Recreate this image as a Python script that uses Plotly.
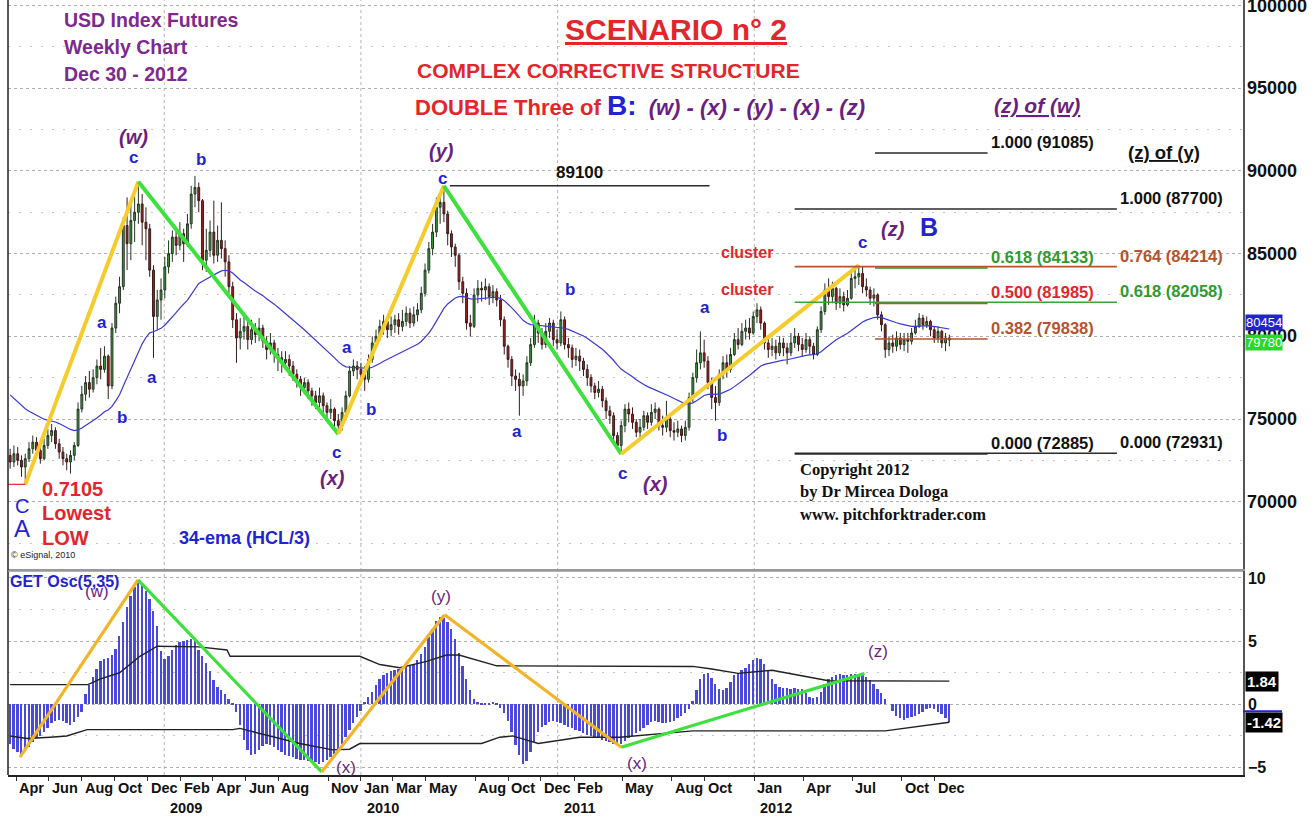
import datetime as dt
import plotly.graph_objects as go
from plotly.subplots import make_subplots

# ---------------- data ----------------
first_week = dt.datetime(2008, 3, 21)
first_open = 72.8
ema_seed = 76.7
ema_period = 34

close_pts = [
    72.4, 72.9, 72.5, 72.1, 72.6, 73.2, 73.6, 73.1, 72.6, 73.4,
    74.0, 74.3, 73.5, 73.0, 72.6, 72.4, 72.8, 73.4, 75.6, 76.5,
    77.2, 76.8, 77.5, 78.2, 78.0, 78.8, 77.0, 80.5, 82.0, 83.0,
    86.7, 85.6, 87.0, 87.5, 88.0, 86.9, 86.5, 84.0, 81.2, 82.2,
    82.8, 84.2, 85.0, 86.0, 85.5, 86.2, 85.6, 86.8, 88.6, 89.0,
    88.2, 84.6, 85.2, 86.3, 84.9, 85.8, 85.3, 84.5, 83.0, 81.0,
    79.9, 80.3, 80.6, 79.8, 80.4, 80.1, 80.5, 79.7, 79.2, 79.6,
    78.9, 78.7, 78.4, 78.6, 78.2, 77.7, 77.4, 76.9, 77.2, 76.7,
    76.4, 76.0, 76.4, 75.8, 75.4, 75.6, 74.9, 74.6, 75.4, 76.4,
    77.9, 78.2, 78.0, 77.7, 77.4, 78.6, 79.6, 80.0, 80.6, 80.9,
    80.4, 80.7, 81.0, 80.6, 80.9, 81.4, 80.8, 81.3, 81.6, 82.6,
    84.0, 85.3, 86.3, 87.8, 88.1, 87.4, 86.2, 85.4, 84.9, 83.3,
    82.6, 80.8, 80.6, 82.5, 82.9, 82.8, 83.0, 82.4, 82.7, 82.2,
    81.0, 79.4, 78.6, 77.6, 77.4, 77.0, 77.3, 78.4, 79.5, 80.8,
    80.2, 79.5, 80.3, 80.8, 79.8, 79.6, 81.0, 79.5, 79.3, 78.6,
    78.8, 78.5, 78.0, 77.5, 77.0, 76.6, 76.8, 76.1, 75.5, 75.2,
    74.0, 73.4, 74.6, 75.6, 75.3, 74.8, 74.2, 74.5, 75.2, 74.8,
    75.4, 75.6, 74.6, 74.5, 75.0, 74.3, 74.2, 74.4, 74.0, 74.5,
    76.3, 77.5, 78.4, 79.0, 78.5, 77.2, 76.3, 76.0, 77.7, 78.4,
    78.0, 78.9, 79.8, 79.5, 80.3, 80.5, 80.2, 81.2, 81.6, 80.8,
    79.6, 79.2, 79.4, 79.0, 79.6, 79.3, 79.0, 79.6, 80.0, 79.5,
    79.2, 79.8, 79.4, 78.9, 80.4, 81.5, 82.8, 82.4, 82.9, 82.0,
    82.4, 81.9, 82.3, 83.5, 83.6, 83.8, 83.0, 82.8, 82.3, 82.5,
    81.3, 80.7, 79.2, 79.6, 79.4, 79.9, 79.5, 79.8, 79.7, 80.2,
    80.6, 81.1, 80.7, 80.9, 80.4, 79.9, 80.3, 79.6, 79.9, 79.78,
]
high_pts = [
    73.2, 73.4, 73.3, 72.8, 72.9, 73.6, 74.0, 73.9, 73.4, 73.8,
    74.4, 74.7, 74.5, 73.8, 73.3, 72.9, 73.1, 73.6, 76.0, 77.0,
    77.6, 77.9, 78.0, 78.6, 79.3, 79.4, 78.9, 80.8, 82.4, 83.6,
    87.2, 88.4, 88.0, 88.5, 89.35, 88.6, 87.8, 86.8, 84.3, 82.8,
    83.5, 84.8, 85.8, 86.4, 86.6, 86.9, 86.5, 87.4, 89.1, 89.7,
    89.3, 88.3, 86.5, 87.0, 88.2, 86.7, 88.1, 85.8, 84.9, 83.3,
    81.4, 81.1, 81.3, 80.9, 81.0, 80.8, 81.1, 80.7, 80.0, 80.2,
    79.8, 79.3, 79.1, 79.1, 78.9, 78.5, 78.0, 77.6, 77.5, 77.4,
    76.9, 76.7, 76.9, 76.6, 76.0, 76.2, 75.7, 75.3, 75.7, 76.7,
    78.2, 78.6, 78.5, 78.4, 78.2, 78.9, 80.0, 80.4, 81.0, 81.3,
    81.1, 81.2, 81.3, 81.4, 81.6, 81.8, 81.7, 81.8, 82.0, 83.0,
    84.4, 85.7, 86.8, 88.4, 88.6, 89.1, 87.6, 86.4, 85.6, 85.0,
    83.6, 82.9, 81.3, 82.9, 83.4, 83.3, 83.5, 83.2, 83.1, 82.9,
    82.5, 81.2, 79.5, 78.8, 78.0, 77.8, 77.7, 78.8, 79.9, 81.3,
    81.0, 80.5, 80.8, 81.1, 81.0, 80.4, 81.5, 81.2, 79.9, 79.5,
    79.3, 79.2, 78.7, 78.3, 77.7, 77.2, 77.3, 77.0, 76.3, 75.8,
    75.4, 74.2, 74.9, 75.9, 76.0, 75.7, 75.0, 75.0, 75.5, 75.4,
    75.9, 76.0, 75.7, 75.2, 76.1, 75.2, 74.8, 74.9, 74.6, 74.9,
    76.6, 77.8, 79.2, 80.3, 79.8, 78.8, 77.5, 77.0, 78.0, 78.8,
    78.9, 79.3, 80.2, 80.5, 80.8, 81.0, 81.1, 81.5, 82.0, 81.8,
    80.9, 79.9, 79.9, 79.8, 80.0, 79.9, 79.6, 80.2, 80.5, 80.2,
    79.9, 80.2, 80.0, 79.6, 80.6, 81.8, 83.2, 83.5, 83.3, 83.0,
    82.9, 82.7, 82.8, 83.8, 84.0, 84.3, 84.2, 83.5, 83.0, 82.9,
    82.6, 81.5, 80.8, 80.0, 80.1, 80.3, 80.2, 80.2, 80.2, 80.5,
    81.0, 81.4, 81.3, 81.2, 81.0, 80.6, 80.6, 80.4, 80.2, 80.1,
]
low_pts = [
    72.0, 72.1, 72.2, 71.5, 71.05, 72.4, 72.9, 72.8, 72.3, 72.5,
    73.2, 73.6, 73.2, 72.6, 72.2, 71.9, 71.7, 72.5, 73.3, 75.4,
    76.1, 76.3, 76.6, 77.1, 77.4, 77.8, 76.2, 76.8, 80.2, 81.4,
    82.8, 84.0, 84.6, 85.7, 86.8, 85.5, 84.6, 83.6, 78.7, 80.4,
    81.0, 82.3, 83.8, 84.5, 84.9, 85.2, 84.5, 85.4, 86.5, 87.8,
    87.5, 84.0, 83.9, 84.8, 84.4, 84.5, 84.7, 83.6, 82.6, 80.5,
    78.4, 79.2, 79.8, 79.2, 79.5, 79.6, 79.7, 79.3, 78.6, 78.9,
    78.4, 77.9, 77.8, 78.0, 77.6, 77.3, 76.9, 76.4, 76.5, 76.2,
    75.8, 75.6, 75.7, 75.3, 74.9, 75.0, 74.5, 74.1, 74.3, 75.2,
    76.3, 77.6, 77.4, 77.2, 76.7, 77.2, 78.4, 79.3, 79.7, 80.1,
    79.9, 80.0, 80.2, 80.1, 80.3, 80.6, 80.5, 80.6, 80.9, 81.4,
    82.4, 83.8, 84.9, 86.0, 86.8, 86.9, 85.5, 84.8, 84.2, 82.8,
    82.0, 80.4, 80.0, 80.5, 82.0, 82.1, 82.2, 81.9, 82.0, 81.8,
    80.6, 78.9, 78.1, 77.0, 76.7, 75.2, 76.4, 77.0, 78.2, 79.3,
    79.6, 79.2, 79.3, 79.9, 79.4, 79.2, 79.4, 79.2, 78.7, 78.1,
    78.2, 77.9, 77.6, 77.0, 76.6, 76.2, 76.3, 75.7, 75.0, 74.7,
    73.6, 73.2, 72.885, 74.2, 74.8, 74.4, 73.9, 73.8, 74.3, 74.4,
    74.6, 75.0, 74.3, 74.0, 74.2, 73.9, 73.7, 73.9, 73.6, 73.7,
    74.3, 76.0, 77.2, 78.0, 78.1, 76.8, 75.6, 74.9, 75.8, 77.4,
    77.5, 77.8, 78.8, 79.2, 79.4, 79.8, 79.8, 80.1, 80.8, 80.4,
    79.2, 78.7, 78.8, 78.6, 78.8, 78.8, 78.3, 78.8, 79.3, 79.1,
    78.8, 79.0, 78.9, 78.6, 78.8, 80.2, 81.3, 81.9, 82.0, 81.6,
    81.7, 81.5, 81.8, 82.2, 82.9, 83.1, 82.6, 82.4, 81.9, 81.8,
    81.0, 80.3, 78.7, 78.8, 79.0, 79.1, 79.2, 79.1, 79.0, 79.5,
    80.1, 80.5, 80.4, 80.5, 80.0, 79.6, 79.6, 79.3, 79.1, 79.4,
]
osc_vals = [
    -3.1, -3.5, -3.8, -3.9, -3.7, -3.4, -3.0, -2.7, -2.5, -2.2,
    -1.9, -1.5, -1.3, -1.2, -1.3, -1.5, -1.6, -1.4, -1.0, -0.6,
    0.8, 1.5, 2.2, 2.8, 3.4, 3.6, 3.7, 3.9, 4.4, 5.4,
    6.5, 7.7, 8.6, 9.3, 9.6, 9.5, 9.0, 8.3, 7.4, 6.2,
    4.2, 3.6, 3.8, 4.3, 4.7, 4.9, 5.0, 5.1, 5.2, 5.0,
    4.3, 3.8, 3.3, 2.6, 1.9, 1.4, 1.1, 0.8, 0.4, 0.05,
    -0.6, -1.6, -2.8, -3.6, -4.0, -3.9, -3.6, -3.3, -3.1, -3.2,
    -3.4, -3.6, -3.8, -4.0, -4.1, -4.2, -4.3, -4.4, -4.4, -4.5,
    -4.6, -4.6, -4.7, -4.6, -4.4, -4.2, -3.9, -3.6, -3.1, -2.6,
    -2.0, -1.5, -1.0, -0.5, 0.2, 0.6, 1.0, 1.5, 2.0, 2.3,
    2.5, 2.6, 2.7, 2.8, 2.9, 3.0, 3.0, 3.2, 3.5, 4.0,
    4.5, 5.3, 6.0, 6.6, 6.9, 6.8, 6.5, 6.0, 5.2, 4.1,
    3.0, 2.0, 1.1, 0.4, 0.2, 0.1, 0.1, 0.1, 0.2, 0.1,
    -0.3, -0.7, -1.3, -2.2, -3.2, -4.0, -4.7, -4.5, -3.8, -3.0,
    -2.2, -1.8, -1.6, -1.4, -1.3, -1.4, -1.5, -1.6, -1.8, -1.9,
    -2.0, -2.1, -2.3, -2.4, -2.5, -2.6, -2.7, -2.8, -2.9, -3.0,
    -3.1, -3.1, -3.1, -2.9, -2.7, -2.5, -2.3, -2.1, -1.9, -1.6,
    -1.4, -1.3, -1.4, -1.5, -1.5, -1.4, -1.3, -1.1, -0.9, -0.7,
    -0.4, 0.3, 1.1, 2.0, 2.4, 2.5, 2.1, 1.6, 1.2, 1.1,
    1.3, 1.8, 2.3, 2.5, 2.7, 2.9, 3.2, 3.5, 3.7, 3.6,
    3.2, 2.6, 2.0, 1.6, 1.4, 1.3, 1.3, 1.2, 1.3, 1.2,
    1.2, 0.9, 0.6, 0.5, 0.6, 1.0, 1.6, 2.0, 2.2, 2.3,
    2.4, 2.3, 2.3, 2.4, 2.4, 2.4, 2.3, 2.2, 1.9, 1.6,
    1.2, 0.9, 0.4, 0.0, -0.5, -0.9, -1.1, -1.2, -1.1, -1.0,
    -0.9, -0.8, -0.6, -0.4, -0.3, -0.4, -0.6, -0.8, -1.1, -1.42,
]
assert len(close_pts) == len(high_pts) == len(low_pts) == len(osc_vals) == 250

# oscillator envelope bands (week index -> value)
upper_band_idx = [0, 20.6, 23.8, 29, 34.4, 39, 50, 57.5, 58.3, 92.7, 98, 103.3, 110.4,
                  115.7, 119, 124.5, 129, 181, 186, 193, 202, 212.7, 217, 249]
upper_band_val = [1.56, 1.56, 2.0, 2.5, 3.8, 4.6, 4.55, 4.3, 3.8, 3.8, 3.15, 2.9, 3.4,
                  3.9, 3.9, 3.4, 3.05, 3.0, 2.8, 2.45, 2.7, 2.1, 1.87, 1.84]
lower_band_idx = [0, 4.5, 10.6, 15, 20.4, 59, 60.9, 66.2, 76.8, 85.5, 90, 92.7, 125,
                  129.8, 133.2, 140, 151, 161.6, 181, 232, 249]
lower_band_val = [-2.5, -2.7, -2.6, -2.5, -2.0, -2.0, -1.9, -2.3, -3.1, -3.6, -3.55, -3.1, -3.1,
                  -2.6, -2.5, -3.1, -2.6, -2.6, -2.1, -2.1, -1.42]

# wave pivots: A, (w), (x), (y), (x), (z)
wave_idx = [4, 34, 87, 115, 162, 225]
wave_val = [71050, 89350, 74100, 89100, 72885, 84300]
osc_wave_idx = [2.6, 33.9, 82.6, 115.2, 162, 226.5]
osc_wave_val = [-4.17, 9.84, -5.35, 7.09, -3.39, 2.44]

# fibonacci levels
fib_values = [91085, 87700, 84214, 84133, 82058, 81985, 79838, 72931, 72885]
fib_labels = ["1.000 (91085)", "1.000 (87700)", "0.764 (84214)", "0.618 (84133)",
              "0.618 (82058)", "0.500 (81985)", "0.382 (79838)", "0.000 (72931)", "0.000 (72885)"]
fib_start = ["2012-08-12", "2012-03-16", "2012-03-16", "2012-08-12",
             "2012-03-16", "2012-08-12", "2012-08-12", "2012-03-16", "2012-03-16"]
fib_end = ["2013-03-09", "2013-11-04", "2013-11-04", "2013-03-09",
           "2013-11-04", "2013-03-09", "2013-03-09", "2013-11-04", "2013-03-09"]
level_89100 = 89100
level_89100_span = ["2010-06-15", "2011-10-10"]
low_level = 71050

price_ticks = [70000, 75000, 80000, 85000, 90000, 95000, 100000]
last_ema_label = 80454
last_close_label = 79780
osc_band_label = 1.84
osc_last_label = -1.42

month_dates = ["2008-04-01", "2008-06-01", "2008-08-01", "2008-10-01", "2008-12-01",
               "2009-02-01", "2009-04-01", "2009-06-01", "2009-08-01", "2009-11-01",
               "2010-01-01", "2010-03-01", "2010-05-01", "2010-08-01", "2010-10-01",
               "2010-12-01", "2011-02-01", "2011-05-01", "2011-08-01", "2011-10-01",
               "2012-01-01", "2012-04-01", "2012-07-01", "2012-10-01", "2012-12-01"]
month_labels = ["Apr", "Jun", "Aug", "Oct", "Dec", "Feb", "Apr", "Jun", "Aug", "Nov",
                "Jan", "Mar", "May", "Aug", "Oct", "Dec", "Feb", "May", "Aug", "Oct",
                "Jan", "Apr", "Jul", "Oct", "Dec"]
year_dates = ["2009-01-01", "2010-01-01", "2011-01-01", "2012-01-01"]
year_labels = ["2009", "2010", "2011", "2012"]

# ---------------- derived ----------------
def wdate(i):
    return first_week + dt.timedelta(days=7 * i)

n = len(close_pts)
dates = [wdate(i) for i in range(n)]
open_pts = [first_open] + close_pts[:-1]
high_adj = [max(h, o, c) for h, o, c in zip(high_pts, open_pts, close_pts)]
low_adj = [min(l, o, c) for l, o, c in zip(low_pts, open_pts, close_pts)]
K = 1000
opens = [v * K for v in open_pts]
highs = [v * K for v in high_adj]
lows = [v * K for v in low_adj]
closes = [v * K for v in close_pts]

alpha = 2.0 / (ema_period + 1)
ema = []
e = ema_seed
for h, l, c in zip(high_adj, low_adj, close_pts):
    e = e + alpha * ((h + l + c) / 3.0 - e)
    ema.append(e * K)

# ---------------- styling ----------------
ARIAL = "Arial, Liberation Sans, Helvetica, sans-serif"
TIMES = "Times New Roman, Liberation Serif, serif"
PURPLE = "#6b1f82"
PURPLE_T = "#7d2a8f"
RED = "#e3262b"
BLUE = "#1f24d0"
YELLOW = "#f6cb2c"
ORANGE = "#f2b52a"
GREEN = "#3de03d"
BROWN = "#b4532e"
FGREEN = "#2f9a2f"

L, R, T, B = 8, 1243, 0, 775
W, H = 1313, 818


def px(x):
    return (x - L) / (R - L)


def py(y):
    return (B - y) / (B - T)


fig = make_subplots(rows=2, cols=1, shared_xaxes=True, vertical_spacing=0.003,
                    row_heights=[0.735, 0.265])

fig.add_trace(go.Candlestick(
    x=dates, open=opens, high=highs, low=lows, close=closes,
    increasing=dict(fillcolor="#3f9c3f", line=dict(color="#243524", width=1)),
    decreasing=dict(fillcolor="#a3211f", line=dict(color="#3a1a1a", width=1)),
    whiskerwidth=0, hoverinfo="skip", showlegend=False), row=1, col=1)

fig.add_trace(go.Scatter(x=dates, y=ema, mode="lines",
                         line=dict(color="#3a3ad6", width=1.2),
                         hoverinfo="skip", showlegend=False), row=1, col=1)

wave_cols = [YELLOW, GREEN, YELLOW, GREEN, YELLOW]
for k in range(len(wave_idx) - 1):
    fig.add_trace(go.Scatter(x=[wdate(wave_idx[k]), wdate(wave_idx[k + 1])],
                             y=[wave_val[k], wave_val[k + 1]], mode="lines",
                             line=dict(color=wave_cols[k], width=4),
                             hoverinfo="skip", showlegend=False), row=1, col=1)

fib_line_cols = ["#2b2b2b", "#2b2b2b", BROWN, "#2f8f2f", "#3aa33a", BROWN, BROWN, "#2b2b2b", "#2b2b2b"]
fib_label_cols = ["#111", "#111", BROWN, FGREEN, FGREEN, RED, BROWN, "#111", "#111"]
for v, s, e_, c in zip(fib_values, fib_start, fib_end, fib_line_cols):
    fig.add_trace(go.Scatter(x=[s, e_], y=[v, v], mode="lines", line=dict(color=c, width=1.6),
                             hoverinfo="skip", showlegend=False), row=1, col=1)
fig.add_trace(go.Scatter(x=level_89100_span, y=[level_89100, level_89100], mode="lines",
                         line=dict(color="#2b2b2b", width=1.4), hoverinfo="skip",
                         showlegend=False), row=1, col=1)
fig.add_trace(go.Scatter(x=["2008-03-14", wdate(4)], y=[low_level, low_level], mode="lines",
                         line=dict(color=RED, width=1.2), hoverinfo="skip",
                         showlegend=False), row=1, col=1)

# oscillator
fig.add_trace(go.Bar(x=dates, y=osc_vals, width=0.5 * 7 * 86400000,
                     marker=dict(color="#4a4ad8", line=dict(width=0)),
                     hoverinfo="skip", showlegend=False), row=2, col=1)
fig.add_trace(go.Scatter(x=[wdate(i) for i in upper_band_idx], y=upper_band_val, mode="lines",
                         line=dict(color="#222", width=1.4), hoverinfo="skip",
                         showlegend=False), row=2, col=1)
fig.add_trace(go.Scatter(x=[wdate(i) for i in lower_band_idx], y=lower_band_val, mode="lines",
                         line=dict(color="#222", width=1.4), hoverinfo="skip",
                         showlegend=False), row=2, col=1)
osc_cols = [ORANGE, GREEN, ORANGE, ORANGE, GREEN]
for k in range(len(osc_wave_idx) - 1):
    fig.add_trace(go.Scatter(x=[wdate(osc_wave_idx[k]), wdate(osc_wave_idx[k + 1])],
                             y=[osc_wave_val[k], osc_wave_val[k + 1]], mode="lines",
                             line=dict(color=osc_cols[k], width=3.2),
                             hoverinfo="skip", showlegend=False), row=2, col=1)

# ---------------- annotations ----------------
ann = []


def label(text, x, y, size, color, anchor="center", family=ARIAL, bold=True, italic=False):
    t = text
    if italic:
        t = "<i>" + t + "</i>"
    if bold:
        t = "<b>" + t + "</b>"
    ann.append(dict(text=t, x=px(x), y=py(y), xref="paper", yref="paper",
                    xanchor=anchor, yanchor="middle", showarrow=False,
                    font=dict(size=size, color=color, family=family)))


label("USD Index Futures", 62, 20, 19.5, PURPLE_T, "left")
label("Weekly Chart", 62, 47, 19.5, PURPLE_T, "left")
label("Dec 30 - 2012", 62, 74, 19.5, PURPLE_T, "left")
label("<u>SCENARIO n° 2</u>", 676, 29, 30, RED)
label("COMPLEX CORRECTIVE STRUCTURE", 608, 71, 21, RED)
label("<b>DOUBLE Three of </b><span style='color:#1f24d0;font-size:28px'><b>B:</b></span>"
      "<span style='color:#6b1f82'><b><i>  (w) - (x) - (y) - (x) - (z)</i></b></span>",
      413, 106, 22, RED, "left", bold=False)
label("<u>(z) of (w)</u>", 1037, 105, 21, PURPLE, italic=True)
label("<u>(z) of (y)</u>", 1164, 153, 18.5, "#111")

for v, e_, t, c in zip(fib_values, fib_end, fib_labels, fib_label_cols):
    ann.append(dict(text="<b>" + t + "</b>", x=e_, y=v, xref="x", yref="y", xanchor="left",
                    yanchor="middle", xshift=1, yshift=11, showarrow=False,
                    font=dict(size=16.5, color=c, family=ARIAL)))
ann.append(dict(text="<b>89100</b>", x="2011-02-10", y=level_89100, xref="x", yref="y",
                xanchor="center", yanchor="middle", yshift=13, showarrow=False,
                font=dict(size=17, color="#111", family=ARIAL)))

for t, x, y in [("(w)", 133, 137), ("(y)", 441, 151), ("(x)", 332, 478),
                ("(x)", 655, 484), ("(z)", 893, 229)]:
    label(t, x, y, 20, PURPLE, italic=True)
for t, x, y in [("c", 133, 157), ("b", 201, 159), ("a", 102, 322), ("a", 152, 377),
                ("b", 122, 418), ("c", 442, 178), ("a", 347, 347), ("b", 371, 409),
                ("c", 336, 453), ("b", 570, 290), ("a", 517, 432), ("c", 622, 473),
                ("a", 705, 307), ("b", 722, 435), ("c", 862, 242)]:
    label(t, x, y, 17, BLUE)
label("B", 929, 227, 25, BLUE)
label("C", 22, 506, 20, BLUE, bold=False)
label("A", 22, 528, 24, BLUE, bold=False)
label("0.7105", 40, 489, 20, RED, "left")
label("Lowest", 40, 513, 20, RED, "left")
label("LOW", 40, 538, 20, RED, "left")
label("cluster", 747, 253, 16, RED)
label("cluster", 747, 289, 16, RED)
label("34-ema (HCL/3)", 244, 538, 18, BLUE)
label("© eSignal, 2010", 9, 555, 9, "#222", "left", bold=False)
label("Copyright 2012", 798, 469, 16.5, "#111", "left", family=TIMES)
label("by Dr Mircea Dologa", 798, 492, 16.5, "#111", "left", family=TIMES)
label("www. pitchforktrader.com", 798, 514, 16.5, "#111", "left", family=TIMES)

label("GET Osc(5,35)", 8, 581, 16, BLUE, "left")
for t, x, y in [("(w)", 97, 591), ("(y)", 441, 596), ("(x)", 346, 767),
                ("(x)", 637, 763), ("(z)", 878, 651)]:
    label(t, x, y, 17, PURPLE, bold=False)

# price axis labels (right side)
for v in price_ticks:
    ann.append(dict(text="<b>%d</b>" % v, x=1.0, y=v, xref="paper", yref="y",
                    xanchor="left", yanchor="middle", xshift=2, showarrow=False,
                    font=dict(size=18, color="#111", family=ARIAL)))

# axis value boxes
ann.append(dict(text="80454", x=1.0015, y=last_ema_label, xref="paper", yref="y",
                xanchor="left", yanchor="middle", yshift=6, showarrow=False,
                bgcolor="#1f24d0", borderpad=0,
                font=dict(size=13, color="white", family=ARIAL)))
ann.append(dict(text="79780", x=1.0015, y=last_close_label, xref="paper", yref="y",
                xanchor="left", yanchor="middle", yshift=-3, showarrow=False,
                bgcolor="#22dd22", borderpad=0,
                font=dict(size=13, color="white", family=ARIAL)))
ann.append(dict(text="<b>1.84</b>", x=1.0015, y=osc_band_label, xref="paper", yref="y2",
                xanchor="left", yanchor="middle", showarrow=False, bgcolor="black",
                borderpad=1, font=dict(size=15, color="white", family=ARIAL)))
ann.append(dict(text="<b>-1.42</b>", x=1.0015, y=osc_last_label, xref="paper", yref="y2",
                xanchor="left", yanchor="middle", showarrow=False, bgcolor="black",
                borderpad=1, font=dict(size=15, color="white", family=ARIAL)))

for d, t in zip(month_dates, month_labels):
    ann.append(dict(text="<b>" + t + "</b>", x=d, y=py(788), xref="x2", yref="paper",
                    xanchor="left", yanchor="middle", xshift=1, showarrow=False,
                    font=dict(size=14.5, color="#111", family=ARIAL)))
for d, t in zip(year_dates, year_labels):
    ann.append(dict(text="<b>" + t + "</b>", x=d, y=py(808), xref="x2", yref="paper",
                    xanchor="left", yanchor="middle", xshift=4, showarrow=False,
                    font=dict(size=14.5, color="#111", family=ARIAL)))

shapes = []
for d in year_dates:
    shapes.append(dict(type="line", xref="x", yref="paper", x0=d, x1=d, y0=0, y1=1,
                       line=dict(color="#b5b5b5", width=1, dash="dot"), layer="below"))
shapes.append(dict(type="line", xref="paper", yref="paper", x0=0, x1=0, y0=0, y1=1,
                   line=dict(color="#222", width=1.5)))
shapes.append(dict(type="line", xref="paper", yref="y2 domain", x0=0, x1=1, y0=1, y1=1,
                   line=dict(color="#999", width=1.5)))
shapes.append(dict(type="line", xref="paper", yref="y2", x0=1.0, x1=px(1282),
                   y0=-0.55, y1=-0.55, line=dict(color="#1f24d0", width=2)))

x_range = ["2008-03-17", "2014-06-26"]
fig.update_layout(
    width=W, height=H, margin=dict(l=L, r=W - R, t=T, b=H - B),
    paper_bgcolor="white", plot_bgcolor="white", showlegend=False,
    annotations=ann, shapes=shapes, bargap=0,
    xaxis=dict(range=x_range, rangeslider=dict(visible=False), showticklabels=False,
               showgrid=False, showline=True, linecolor="#999", linewidth=1.5, ticks=""),
    xaxis2=dict(range=x_range, showticklabels=False, showgrid=False, showline=True,
                linecolor="#222", linewidth=1.5, tickmode="array", tickvals=month_dates,
                ticks="outside", ticklen=4, tickcolor="#333"),
    yaxis=dict(domain=[(B - 569) / B, 1.0], side="right", range=[65931, 100333],
               tickmode="linear", tick0=0, dtick=5000, showticklabels=False,
               showgrid=True, gridcolor="#b0b0b0", griddash="dot", gridwidth=1,
               minor=dict(tickmode="linear", tick0=0, dtick=2500, showgrid=True,
                          gridcolor="#c8c8c8", griddash="2px,9px", gridwidth=1),
               showline=True, linecolor="#555", linewidth=1.5, zeroline=False, ticks=""),
    yaxis2=dict(domain=[0.0, (B - 571) / B], side="right", range=[-5.59, 10.55],
                tickmode="linear", tick0=0, dtick=5, tickformat="d",
                tickfont=dict(family=ARIAL, size=16, color="#111", weight="bold"),
                showgrid=True, gridcolor="#b0b0b0", griddash="dot", gridwidth=1,
                minor=dict(tickmode="linear", tick0=0, dtick=2.5, showgrid=True,
                           gridcolor="#c8c8c8", griddash="2px,9px", gridwidth=1),
                showline=True, linecolor="#555", linewidth=1.5, zeroline=False, ticks=""),
)

fig.write_html("out.html", config={"displayModeBar": False},
               post_script="document.body.style.margin='0px';")
